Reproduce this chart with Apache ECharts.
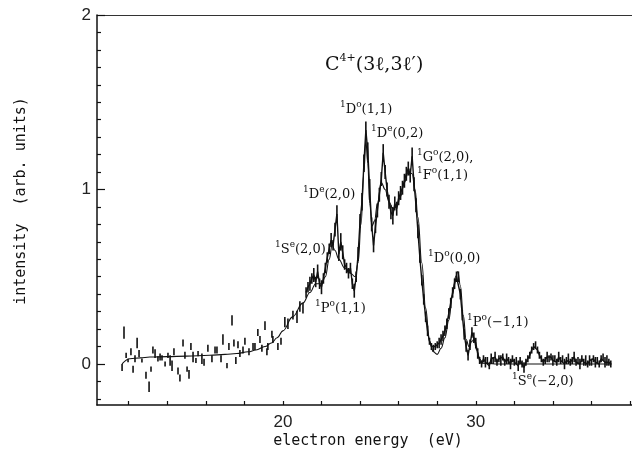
<!DOCTYPE html>
<html>
<head>
<meta charset="utf-8">
<script src="https://cdn.jsdelivr.net/npm/echarts@6/dist/echarts.min.js"></script>
<style>html,body{margin:0;padding:0;background:#fff}#c{width:632px;height:458px}</style>
</head>
<body>
<div id="c"></div>
<script>
// ---- data ----
const xTickValues = [12,14,16,18,20,22,24,26,28,30,32,34,36,38];
const xLabelValues = [20,30];
const yTickValues = [-0.2,-0.1,0.1,0.2,0.3,0.4,0.5,0.6,0.7,0.8,0.9,1.1,1.2,1.3,1.4,1.5,1.6,1.7,1.8,1.9];
const yLabelValues = [0,1,2];

// sparse low-energy measurements
const lowE = [11.66,11.76,11.87,11.97,12.12,12.23,12.33,12.44,12.54,12.69,12.90,13.06,13.16,13.26,13.37,13.52,13.63,13.73,13.89,14.04,14.15,14.25,14.35,14.56,14.66,14.82,14.92,15.03,15.13,15.23,15.34,15.49,15.60,15.80,15.91,16.11,16.32,16.48,16.58,16.79,16.89,17.10,17.20,17.36,17.46,17.56,17.67,17.77,17.93,18.03,18.24,18.45,18.55,18.70,18.81,18.91,19.07,19.17,19.22,19.43,19.48,19.74,19.90,20.10,20.26,20.52,20.73,20.88,21.04];
const lowI = [-0.02,0.18,0.05,0.02,0.07,-0.03,0.03,0.12,0.06,0.02,-0.065,-0.13,-0.03,0.08,0.06,0.03,0.04,0.035,0.0,0.05,0.02,-0.01,0.07,-0.04,-0.08,0.12,0.05,-0.03,-0.06,0.10,0.04,0.02,0.06,0.03,0.01,0.09,0.03,0.08,0.08,0.03,0.14,-0.01,0.10,0.25,0.12,0.02,0.11,0.06,0.08,0.13,0.07,0.10,0.10,0.18,0.14,0.09,0.22,0.07,0.10,0.17,0.14,0.10,0.13,0.24,0.23,0.28,0.27,0.33,0.32];
const lowErr = [0.02,0.035,0.015,0.01,0.02,0.02,0.02,0.03,0.02,0.012,0.02,0.03,0.015,0.02,0.025,0.015,0.02,0.015,0.015,0.015,0.03,0.03,0.02,0.02,0.02,0.02,0.02,0.015,0.025,0.02,0.03,0.015,0.015,0.03,0.02,0.02,0.02,0.02,0.02,0.02,0.03,0.015,0.02,0.03,0.02,0.02,0.02,0.02,0.02,0.02,0.02,0.02,0.02,0.02,0.02,0.02,0.025,0.02,0.02,0.02,0.02,0.02,0.02,0.03,0.03,0.025,0.035,0.03,0.03];

// dense measurements (21.2 - 37.0 eV)
const denseE = [21.2,21.3,21.4,21.5,21.6,21.7,21.8,21.9,22.0,22.1,22.2,22.3,22.4,22.5,22.6,22.7,22.8,22.9,23.0,23.1,23.2,23.3,23.4,23.5,23.6,23.7,23.8,23.9,24.0,24.1,24.2,24.3,24.4,24.5,24.6,24.7,24.8,24.9,25.0,25.1,25.2,25.3,25.4,25.5,25.6,25.7,25.8,25.9,26.0,26.1,26.2,26.3,26.4,26.5,26.6,26.7,26.8,26.9,27.0,27.1,27.2,27.3,27.4,27.5,27.6,27.7,27.8,27.9,28.0,28.1,28.2,28.3,28.4,28.5,28.6,28.7,28.8,28.9,29.0,29.1,29.2,29.3,29.4,29.5,29.6,29.7,29.8,29.9,30.0,30.1,30.2,30.3,30.4,30.5,30.6,30.7,30.8,30.9,31.0,31.1,31.2,31.3,31.4,31.5,31.6,31.7,31.8,31.9,32.0,32.1,32.2,32.3,32.4,32.5,32.6,32.7,32.8,32.9,33.0,33.1,33.2,33.3,33.4,33.5,33.6,33.7,33.8,33.9,34.0,34.1,34.2,34.3,34.4,34.5,34.6,34.7,34.8,34.9,35.0,35.1,35.2,35.3,35.4,35.5,35.6,35.7,35.8,35.9,36.0,36.1,36.2,36.3,36.4,36.5,36.6,36.7,36.8,36.9,37.0];
const denseI = [0.41,0.44,0.46,0.49,0.51,0.47,0.53,0.46,0.44,0.49,0.55,0.61,0.66,0.71,0.68,0.77,0.86,0.63,0.70,0.64,0.57,0.55,0.52,0.55,0.46,0.42,0.50,0.63,0.82,0.93,1.15,1.34,1.22,1.00,0.80,0.68,0.79,0.88,0.97,1.06,1.21,1.10,1.00,0.93,0.87,0.85,0.92,0.89,0.95,0.98,1.01,1.05,1.09,1.12,1.08,1.19,1.03,0.91,0.76,0.61,0.48,0.37,0.27,0.19,0.13,0.10,0.09,0.10,0.11,0.12,0.14,0.16,0.19,0.23,0.29,0.35,0.41,0.46,0.50,0.50,0.40,0.28,0.17,0.10,0.05,0.11,0.18,0.15,0.12,0.06,0.02,0.00,0.03,0.01,0.02,-0.01,0.03,0.02,0.04,0.01,0.03,0.02,0.04,0.01,0.03,0.02,0.00,0.03,0.01,0.02,-0.01,0.02,0.00,-0.02,0.01,0.03,0.05,0.08,0.10,0.11,0.08,0.05,0.03,0.01,0.02,0.04,0.03,0.04,0.02,0.03,0.01,0.04,0.02,0.03,0.00,0.02,0.03,0.01,0.02,0.04,0.01,0.02,0.00,0.03,0.01,0.02,0.00,0.02,0.01,0.03,0.01,0.02,0.00,0.03,0.04,0.01,0.02,0.01,0.00];
const denseErr = [0.03,0.03,0.04,0.03,0.04,0.03,0.04,0.03,0.04,0.03,0.03,0.03,0.03,0.04,0.03,0.04,0.05,0.04,0.05,0.04,0.03,0.03,0.03,0.03,0.03,0.04,0.03,0.04,0.04,0.05,0.05,0.05,0.05,0.06,0.04,0.04,0.04,0.04,0.04,0.04,0.05,0.04,0.04,0.04,0.04,0.05,0.04,0.04,0.04,0.04,0.04,0.04,0.04,0.04,0.04,0.05,0.04,0.04,0.04,0.03,0.03,0.03,0.03,0.03,0.02,0.02,0.02,0.02,0.02,0.03,0.03,0.03,0.03,0.03,0.03,0.03,0.03,0.03,0.03,0.03,0.03,0.03,0.03,0.03,0.03,0.03,0.03,0.03,0.03,0.03,0.02,0.02,0.02,0.03,0.02,0.02,0.03,0.02,0.03,0.02,0.02,0.03,0.02,0.02,0.03,0.02,0.03,0.02,0.02,0.02,0.03,0.02,0.02,0.03,0.02,0.02,0.02,0.02,0.02,0.02,0.02,0.02,0.02,0.02,0.02,0.03,0.02,0.02,0.03,0.02,0.02,0.03,0.02,0.02,0.03,0.02,0.03,0.02,0.02,0.03,0.02,0.02,0.03,0.02,0.02,0.03,0.02,0.03,0.02,0.02,0.03,0.02,0.02,0.02,0.02,0.03,0.03,0.02,0.02,0.02,0.02];

// fitted curve
const fitE = [11.66,12.07,12.6,13.1,14.0,15.0,16.2,17.0,17.6,18.2,18.6,19.07,19.4,19.7,20.0,20.5,21.04,21.4,21.7,22.0,22.2,22.4,22.55,22.7,22.9,23.2,23.5,23.75,23.9,24.05,24.2,24.3,24.4,24.5,24.62,24.75,24.9,25.1,25.3,25.5,25.7,25.9,26.1,26.3,26.5,26.7,26.85,27.0,27.2,27.4,27.6,27.8,28.0,28.2,28.4,28.6,28.8,28.95,29.07,29.2,29.35,29.5,29.65,29.8,29.9,30.05,30.2,30.35,31.0,34.0,37.05];
const fitI = [0.0,0.03,0.035,0.04,0.042,0.045,0.05,0.055,0.06,0.07,0.08,0.10,0.12,0.15,0.19,0.27,0.35,0.41,0.46,0.46,0.50,0.60,0.68,0.65,0.60,0.55,0.52,0.50,0.58,0.80,1.10,1.28,1.15,0.92,0.79,0.82,0.92,1.04,1.0,0.93,0.89,0.90,0.96,1.04,1.10,1.09,1.00,0.84,0.58,0.32,0.13,0.07,0.055,0.09,0.15,0.25,0.40,0.50,0.53,0.45,0.28,0.14,0.10,0.13,0.14,0.08,0.03,0.005,0.0,0.0,0.0];

// annotations: [term letter, parity, quantum numbers]
const peakLabels = [
  ['D','o','(1,1)'],
  ['D','e','(0,2)'],
  ['G','o','(2,0),'],
  ['F','o','(1,1)'],
  ['D','e','(2,0)'],
  ['S','e','(2,0)'],
  ['P','o','(1,1)'],
  ['D','o','(0,0)'],
  ['P','o','(\u22121,1)'],
  ['S','e','(\u22122,0)']
];

// ---- chart ----
const measured = [];
lowE.forEach((e,i)=>measured.push([e, lowI[i], lowErr[i]]));
denseE.forEach((e,i)=>measured.push([e, denseI[i], denseErr[i]]));
const fit = fitE.map((e,i)=>[e, fitI[i]]);

const labelPos = [[340,108],[371,132],[417,156],[417,174],[303,193],[275,248],[315,307],[428,257],[467,321],[512,380]];
const serif = 'DejaVu Serif';
const rich = {
  s: {fontSize: 9, fontFamily: serif, lineHeight: 10, verticalAlign: 'top', fill:'#111'},
  m: {fontSize: 13, fontFamily: serif, lineHeight: 16, verticalAlign: 'bottom', fill:'#111'}
};
const graphics = peakLabels.map((p,i)=>({
  type:'text', x: labelPos[i][0], y: labelPos[i][1],
  style:{text:'{s|1}{m|'+p[0]+'}{s|'+p[1]+'}{m|'+p[2]+'}', rich: rich, verticalAlign:'middle', fill:'#111'}
}));
graphics.push({type:'text', x:325, y:64, style:{text:'{m|C}{s|4+}{m|(3\u2113,3\u2113\u2032)}', verticalAlign:'middle',
  rich:{m:{fontSize:19,fontFamily:serif,fill:'#111',lineHeight:22,verticalAlign:'bottom'}, s:{fontSize:11,fontFamily:serif,fill:'#111',lineHeight:13,verticalAlign:'top'}}}});
graphics.push({type:'text', x:368, y:441, style:{text:'electron energy  (eV)', font:'15px "DejaVu Sans Mono"', fill:'#111', align:'center', verticalAlign:'middle'}});
graphics.push({type:'text', x:21, y:201, rotation: Math.PI/2, style:{text:'intensity  (arb. units)', font:'15px "DejaVu Sans Mono"', fill:'#111', align:'center', verticalAlign:'middle'}});

const chart = echarts.init(document.getElementById('c'));
chart.setOption({
  animation:false,
  backgroundColor:'#fff',
  grid:{left:97, right:0, top:15, bottom:53},
  xAxis:[{
    type:'value', min:10.36, max:38.1, position:'bottom',
    axisLine:{onZero:false, lineStyle:{color:'#111', width:1.5}},
    axisTick:{inside:true, length:4, customValues:xTickValues, lineStyle:{color:'#111', width:1.2}},
    axisLabel:{customValues:xLabelValues, color:'#222', fontSize:17, fontFamily:'Liberation Sans', margin:9},
    splitLine:{show:false}
  },{
    type:'value', min:10.36, max:38.1, position:'top',
    axisLine:{onZero:false, lineStyle:{color:'#333', width:1.2}},
    axisTick:{show:false}, axisLabel:{show:false}, splitLine:{show:false}
  }],
  yAxis:[{
    type:'value', min:-0.235, max:2, position:'left',
    axisLine:{onZero:false, lineStyle:{color:'#111', width:1.5}},
    axisTick:{inside:true, length:4, customValues:yTickValues, lineStyle:{color:'#111', width:1.2}},
    axisLabel:{customValues:yLabelValues, color:'#222', fontSize:17, fontFamily:'Liberation Sans', margin:6},
    splitLine:{show:false}
  },{
    type:'value', min:-0.235, max:2, position:'left',
    axisLine:{show:false, onZero:false},
    axisTick:{inside:true, length:8, customValues:yLabelValues, lineStyle:{color:'#111', width:1.2}},
    axisLabel:{show:false}, splitLine:{show:false}
  }],
  series:[{
    type:'custom', xAxisIndex:0, yAxisIndex:0, data:measured, clip:true,
    renderItem:function(params, api){
      const x=api.value(0), y=api.value(1), e=api.value(2);
      const p1=api.coord([x, y+e]), p2=api.coord([x, y-e]);
      return {type:'line', shape:{x1:p1[0], y1:p1[1], x2:p2[0], y2:p2[1]}, style:{stroke:'#111', lineWidth:1.6}};
    }
  },{
    type:'line', xAxisIndex:0, yAxisIndex:0, data:measured.filter(d=>d[0]>21.1).map(d=>[d[0],d[1]]),
    showSymbol:false, lineStyle:{color:'#111', width:1.4}
  },{
    type:'line', xAxisIndex:0, yAxisIndex:0, data:fit, smooth:0.4, smoothMonotone:'x',
    showSymbol:false, lineStyle:{color:'#111', width:1.1}
  }],
  graphic: graphics
});
</script>
</body>
</html>
